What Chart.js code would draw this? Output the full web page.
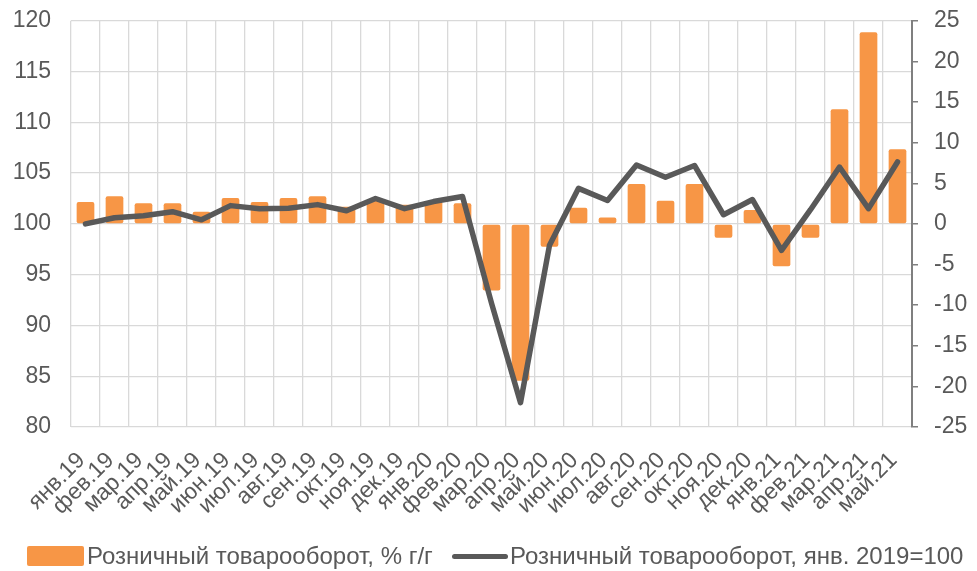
<!DOCTYPE html>
<html>
<head>
<meta charset="utf-8">
<script src="https://cdn.jsdelivr.net/npm/chart.js@4/dist/chart.umd.min.js"></script>
<style>
  html, body { margin: 0; padding: 0; background: #fff; overflow: hidden; }
  #wrap { position: relative; width: 977px; height: 571px; overflow: hidden; }
  canvas { position: absolute; left: 0; top: -13px; }
  .leg { position: absolute; top: 542px; font-family: "Liberation Sans", Arial, sans-serif; font-size: 24px; color: #595959; white-space: nowrap; line-height: 28px; }
  .box { position: absolute; left: 27px; top: 546px; width: 57px; height: 20px; background: #F79646; border-radius: 2px; }
  .ln { position: absolute; left: 452px; top: 554px; width: 56px; height: 5px; background: #595959; border-radius: 3px; }
</style>
</head>
<body>
<div id="wrap">
  <canvas id="c" width="977" height="584"></canvas>
  <div class="box"></div>
  <div class="leg" id="t1" style="left:87px;">Розничный товарооборот, % г/г</div>
  <div class="ln"></div>
  <div class="leg" id="t2" style="left:510px;">Розничный товарооборот, янв. 2019=100</div>
</div>
<script>
const categories = ['янв.19','фев.19','мар.19','апр.19','май.19','июн.19','июл.19','авг.19','сен.19','окт.19','ноя.19','дек.19',
  'янв.20','фев.20','мар.20','апр.20','май.20','июн.20','июл.20','авг.20','сен.20','окт.20','ноя.20','дек.20',
  'янв.21','фев.21','мар.21','апр.21','май.21'];
const retailYoY = [2.7, 3.4, 2.55, 2.55, 1.5, 3.2, 2.7, 3.2, 3.4, 2.1, 2.85, 2.35,
  2.8, 2.55, -8.2, -19.3, -2.8, 2.0, 0.8, 4.9, 2.85, 4.9, -1.7, 1.7,
  -5.2, -1.7, 14.1, 23.6, 9.2];
const retailIndex = [100.0, 100.6, 100.8, 101.2, 100.4, 101.8, 101.5, 101.55, 101.9, 101.3, 102.5, 101.5,
  102.2, 102.7, 92.2, 82.4, 97.9, 103.5, 102.3, 105.8, 104.6, 105.75, 100.9, 102.4,
  97.4, 101.4, 105.6, 101.5, 106.1];
const seriesNames = ['Розничный товарооборот, % г/г', 'Розничный товарооборот, янв. 2019=100'];

const FONT = '"Liberation Sans", Arial, sans-serif';
const TXT = '#595959';

new Chart(document.getElementById('c'), {
  type: 'bar',
  data: {
    labels: categories,
    datasets: [
      {
        type: 'line',
        label: seriesNames[1],
        data: retailIndex,
        yAxisID: 'y',
        borderColor: '#595959',
        backgroundColor: '#595959',
        borderWidth: 5.5,
        pointRadius: 0,
        tension: 0,
        borderJoinStyle: 'round',
        borderCapStyle: 'round'
      },
      {
        type: 'bar',
        label: seriesNames[0],
        data: retailYoY,
        yAxisID: 'y2',
        backgroundColor: '#F79646',
        borderWidth: 0,
        borderRadius: 2,
        borderSkipped: false,
        barPercentage: 0.61,
        categoryPercentage: 1.0
      }
    ]
  },
  options: {
    responsive: false,
    animation: false,
    layout: { padding: { top: 8, left: 0, right: 0, bottom: 0 } },
    plugins: { legend: { display: false }, tooltip: { enabled: false } },
    scales: {
      x: {
        offset: true,
        grid: { display: true, offset: true, color: '#d9d9d9', lineWidth: 1.3, drawTicks: false },
        border: { display: false },
        ticks: { color: TXT, font: { family: FONT, size: 23 }, minRotation: 45, maxRotation: 45, padding: 20, labelOffset: -4, autoSkip: false },
        afterFit: (s) => { s.height = 144; }
      },
      y: {
        position: 'left',
        min: 80, max: 120,
        ticks: { stepSize: 5, color: TXT, font: { family: FONT, size: 23 }, padding: 20 },
        grid: { color: '#d9d9d9', lineWidth: 1.3, drawTicks: false },
        border: { display: false },
        afterFit: (s) => { s.width = 71; }
      },
      y2: {
        position: 'right',
        min: -25, max: 25,
        ticks: { stepSize: 5, color: TXT, font: { family: FONT, size: 23 }, padding: 16 },
        grid: { drawOnChartArea: false, drawTicks: true, tickLength: 6, color: '#7f7f7f', lineWidth: 1.5 },
        border: { display: true, color: '#7f7f7f', width: 2 },
        afterFit: (s) => { s.width = 65; }
      }
    }
  }
});
</script>
</body>
</html>
